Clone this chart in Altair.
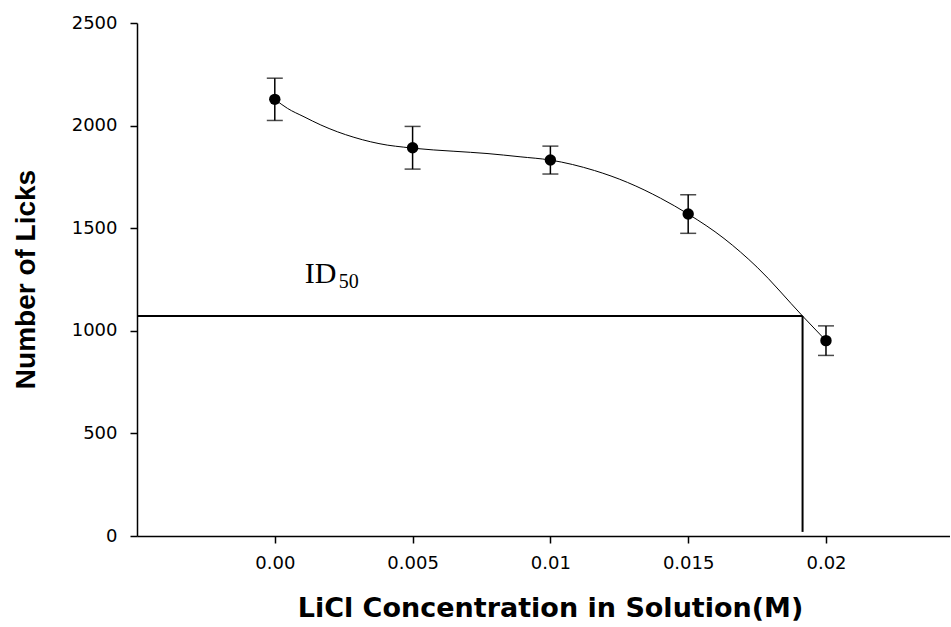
import altair as alt
import pandas as pd

# measured means and standard errors
conc = [0.0, 0.005, 0.01, 0.015, 0.02]
licks = [2128, 1892, 1832, 1569, 952]
sem = [103, 104, 68, 94, 72]

# fitted curve
curve_x = [0.0, 0.00046, 0.00106, 0.00167, 0.00227, 0.00287, 0.00348, 0.00408, 0.00468,
           0.005, 0.0065, 0.0077, 0.0089, 0.01, 0.0116, 0.0128, 0.014, 0.015,
           0.0163, 0.0175, 0.01915, 0.02]
curve_y = [2128, 2084, 2043, 2003, 1970, 1943, 1921, 1905, 1895,
           1890, 1875, 1864, 1848, 1832, 1781, 1723, 1646, 1569,
           1450, 1310, 1072, 952]

x_ticks = [0.0, 0.005, 0.01, 0.015, 0.02]
x_tick_labels = ["0.00", "0.005", "0.01", "0.015", "0.02"]
y_ticks = [0, 500, 1000, 1500, 2000, 2500]

x_domain = [-0.005, 0.0245]
y_domain = [0, 2500]

id50_x = 0.01915
id50_y = 1072
id50_floor = 20

pts = pd.DataFrame({"x": conc, "y": licks, "lo": [v - e for v, e in zip(licks, sem)],
                    "hi": [v + e for v, e in zip(licks, sem)]})
curve = pd.DataFrame({"x": curve_x, "y": curve_y})

# label expression from tick lists
expr = "''"
for v, lab in reversed(list(zip(x_ticks, x_tick_labels))):
    expr = f"abs(datum.value - {v}) < 0.0001 ? '{lab}' : ({expr})"

xscale = alt.Scale(domain=x_domain, nice=False, zero=False)
yscale = alt.Scale(domain=y_domain, nice=False)

xaxis = alt.Axis(values=x_ticks, labelExpr=expr, title="LiCl Concentration in Solution(M)",
                 grid=False, domainColor="black", domainWidth=1.5, tickColor="black",
                 tickWidth=1.5, tickSize=7, labelFont="DejaVu Sans", labelFontSize=18,
                 labelColor="black", labelPadding=11, titleFont="DejaVu Sans",
                 titleFontSize=27, titleFontWeight="bold", titleColor="black",
                 titleX=413, titleY=80, titleAlign="center", titleBaseline="alphabetic",
                 labelFlush=False)
yaxis = alt.Axis(values=y_ticks, format="d", title="Number of Licks", grid=False,
                 domainColor="black", domainWidth=1.5, tickColor="black", tickWidth=1.5,
                 tickSize=7, labelFont="DejaVu Sans", labelFontSize=18, labelColor="black",
                 labelPadding=13, titleFont="Liberation Sans", titleFontSize=28,
                 titleFontWeight="bold", titleColor="black", titleX=-103, titleY=256,
                 titleAngle=-90, titleAlign="center", titleBaseline="alphabetic",
                 labelFlush=False)

base_x = alt.X("x:Q", scale=xscale, axis=xaxis)
base_y = alt.Y("y:Q", scale=yscale, axis=yaxis)

line = alt.Chart(curve).mark_line(color="black", strokeWidth=1, interpolate="monotone").encode(
    x=base_x, y=base_y)

bars = alt.Chart(pts).mark_rule(color="black", strokeWidth=1.5).encode(
    x="x:Q", y="lo:Q", y2="hi:Q")
cap_hi = alt.Chart(pts).mark_tick(color="black", thickness=1.5, size=16, orient="horizontal").encode(
    x="x:Q", y="hi:Q")
cap_lo = alt.Chart(pts).mark_tick(color="black", thickness=1.5, size=16, orient="horizontal").encode(
    x="x:Q", y="lo:Q")
dots = alt.Chart(pts).mark_circle(color="black", opacity=1, size=130).encode(x="x:Q", y="y:Q")

hline_df = pd.DataFrame({"x": [x_domain[0]], "x2": [id50_x], "y": [id50_y]})
vline_df = pd.DataFrame({"x": [id50_x], "y": [id50_floor], "y2": [id50_y]})
hline = alt.Chart(hline_df).mark_rule(color="black", strokeWidth=2).encode(
    x="x:Q", x2="x2:Q", y="y:Q")
vline = alt.Chart(vline_df).mark_rule(color="black", strokeWidth=2).encode(
    x="x:Q", y="y:Q", y2="y2:Q")

lab_df = pd.DataFrame({"x": [0.00109], "y": [1233], "t": ["ID"]})
sub_df = pd.DataFrame({"x": [0.00232], "y": [1209], "t": ["50"]})
lab = alt.Chart(lab_df).mark_text(font="Liberation Serif", fontSize=30, align="left",
                                  baseline="alphabetic", color="black").encode(
    x="x:Q", y="y:Q", text="t:N")
sub = alt.Chart(sub_df).mark_text(font="Liberation Serif", fontSize=20, align="left",
                                  baseline="alphabetic", color="black").encode(
    x="x:Q", y="y:Q", text="t:N")

chart = alt.layer(line, hline, vline, bars, cap_hi, cap_lo, dots, lab, sub).properties(
    width=813, height=513,
    autosize=alt.AutoSizeParams(type="none"),
    padding={"left": 137, "top": 23, "right": 0, "bottom": 88},
    view=alt.ViewBackground(strokeOpacity=0, strokeWidth=0, fill="white"),
).configure_view(strokeWidth=0, strokeOpacity=0).configure(background="white")

chart.save("out.html", embed_options={"renderer": "svg", "actions": False})
